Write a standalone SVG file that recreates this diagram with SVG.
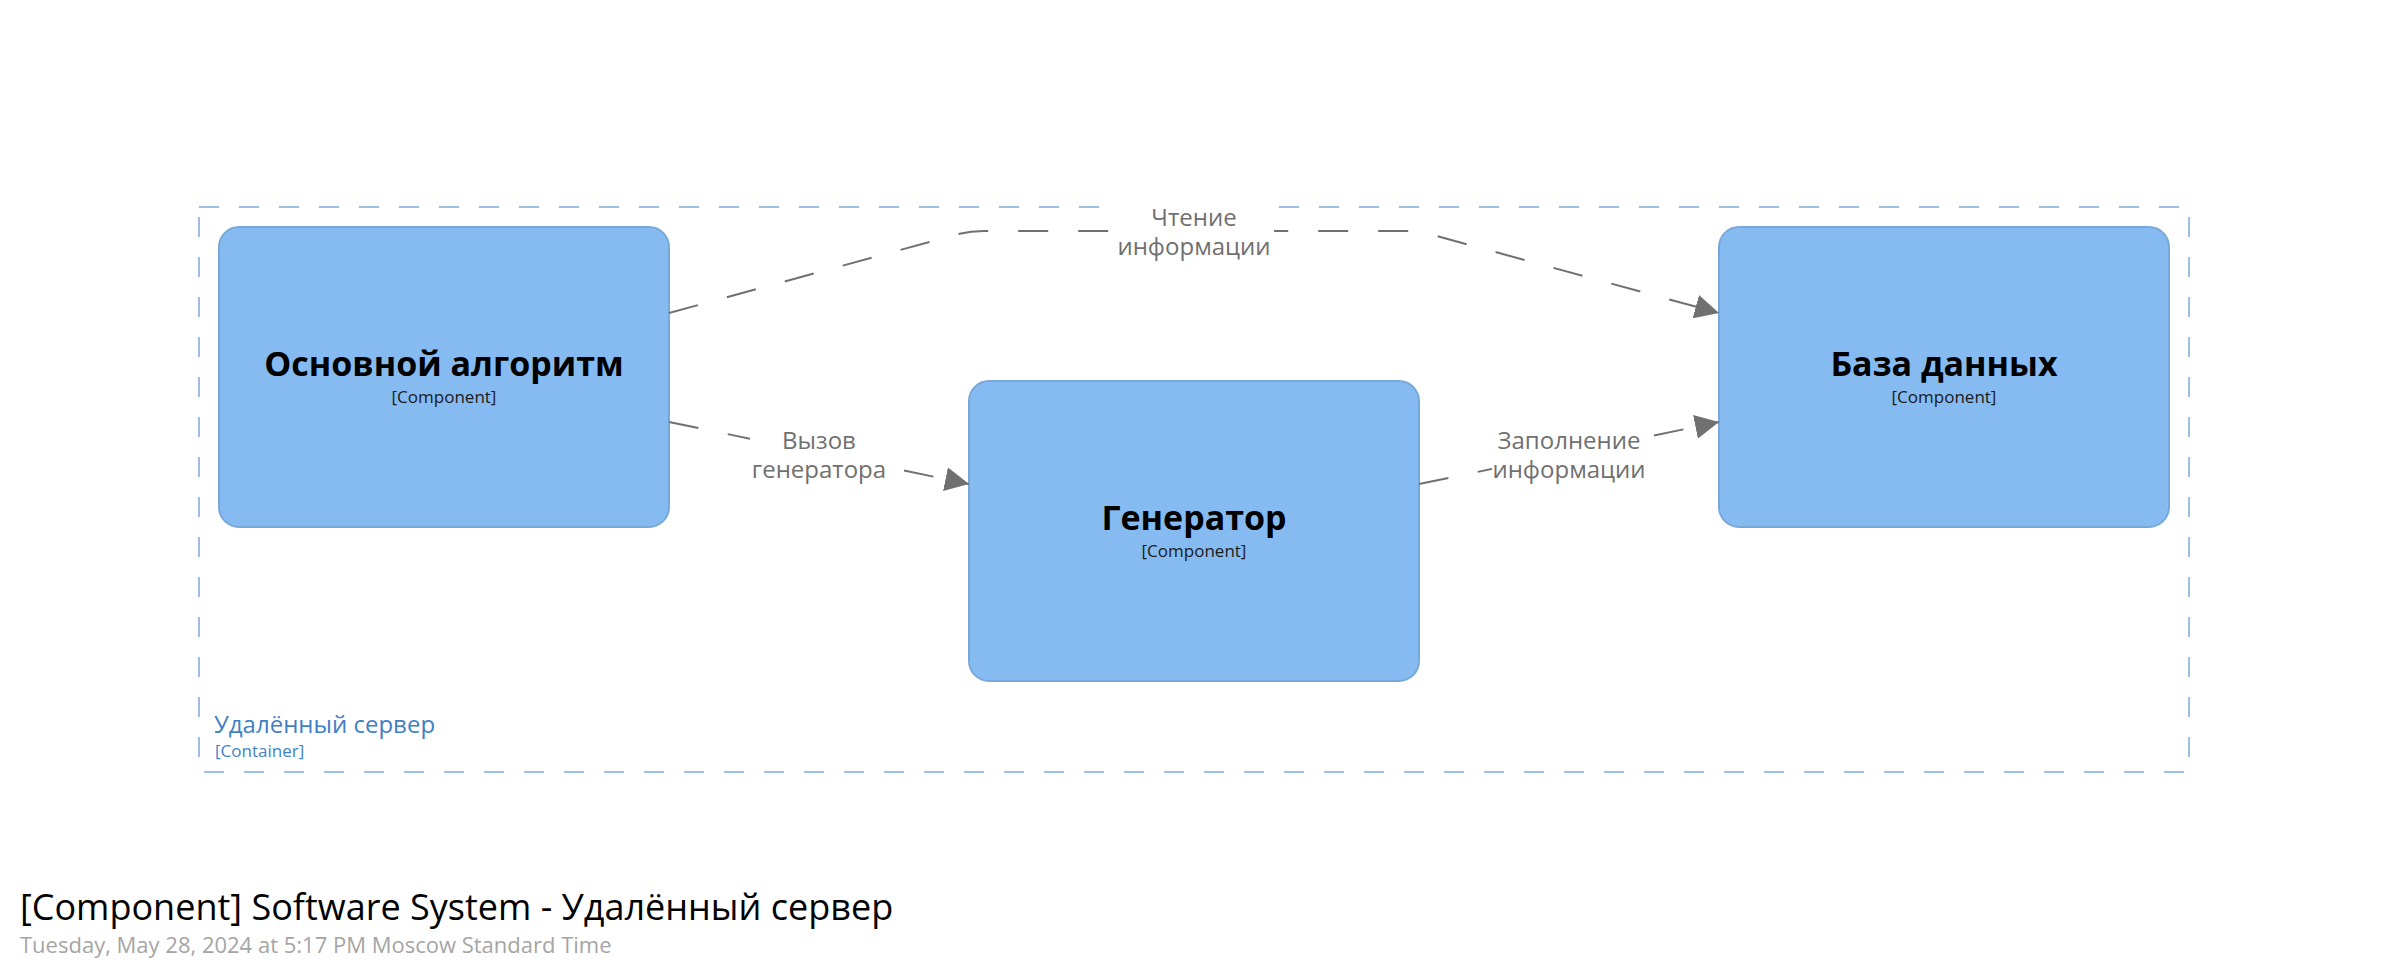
<svg xmlns="http://www.w3.org/2000/svg" width="2390" height="973" viewBox="0 0 2390 973">
<style>
.node rect{fill:#85BBF0;stroke:#78A8DA;stroke-width:2}
.name{font-family:"Open Sans","Noto Sans",sans-serif;font-weight:bold;font-size:34px;fill:#000;text-anchor:middle}
.meta{font-family:"Open Sans","Noto Sans",sans-serif;font-size:17px;fill:#1a1a1a;text-anchor:middle}
.link{fill:none;stroke:#707070;stroke-width:2;stroke-dasharray:30 30}
.lbl{font-family:"Open Sans","Noto Sans",sans-serif;font-size:24px;fill:#707070;text-anchor:middle}
.lblbg{fill:#fff}
.boundary{fill:none;stroke:#9DBFE3;stroke-width:2;stroke-dasharray:20 20}
.bname{font-family:"Open Sans","Noto Sans",sans-serif;font-size:24px;fill:#3F7FC4}
.bmeta{font-family:"Open Sans","Noto Sans",sans-serif;font-size:17px;fill:#3F7FC4}
.title{font-family:"Open Sans","Noto Sans",sans-serif;font-size:36px;fill:#000}
.date{font-family:"Open Sans","Noto Sans",sans-serif;font-size:22px;fill:#A5A5A5}
</style>
<defs>
<marker id="arrow" markerUnits="userSpaceOnUse" markerWidth="26" markerHeight="24" refX="24" refY="12" orient="auto">
<path d="M0,0 L24,12 L0,24 Z" fill="#707070"/>
</marker>
</defs>
<rect width="2390" height="973" fill="#fff"/>
<g id="boundary">
<rect class="boundary" x="199" y="207" width="1990" height="565"/>
<text class="bname" x="214" y="733">Удалённый сервер</text>
<text class="bmeta" x="215" y="757">[Container]</text>
</g>
<g id="node-main" class="node">
<rect x="219" y="227" width="450" height="300" rx="20" ry="20"/>
<text class="name" x="444" y="376">Основной алгоритм</text>
<text class="meta" x="444" y="403">[Component]</text>
</g>
<g id="node-generator" class="node">
<rect x="969" y="381" width="450" height="300" rx="20" ry="20"/>
<text class="name" x="1194" y="530">Генератор</text>
<text class="meta" x="1194" y="557">[Component]</text>
</g>
<g id="node-db" class="node">
<rect x="1719" y="227" width="450" height="300" rx="20" ry="20"/>
<text class="name" x="1944" y="376">База данных</text>
<text class="meta" x="1944" y="403">[Component]</text>
</g>
<g id="connectors">
<path class="link" d="M669,313 L955,235 Q969,231 984,231 L1404,231 Q1419,231 1433,235 L1719,313" marker-end="url(#arrow)"/>
<rect class="lblbg" x="1114" y="202" width="160" height="60"/>
<text class="lbl" x="1194" y="226">Чтение</text>
<text class="lbl" x="1194" y="255">информации</text>
<path class="link" d="M669,422 L969,484" marker-end="url(#arrow)"/>
<rect class="lblbg" x="750" y="424" width="138" height="60"/>
<text class="lbl" x="819" y="449">Вызов</text>
<text class="lbl" x="819" y="478">генератора</text>
<path class="link" d="M1419,484 L1719,422" marker-end="url(#arrow)"/>
<rect class="lblbg" x="1492" y="424" width="154" height="60"/>
<text class="lbl" x="1569" y="449">Заполнение</text>
<text class="lbl" x="1569" y="478">информации</text>
</g>
<g id="title">
<text class="title" x="20" y="920">[Component] Software System - Удалённый сервер</text>
<text class="date" x="20" y="953">Tuesday, May 28, 2024 at 5:17 PM Moscow Standard Time</text>
</g>
</svg>
